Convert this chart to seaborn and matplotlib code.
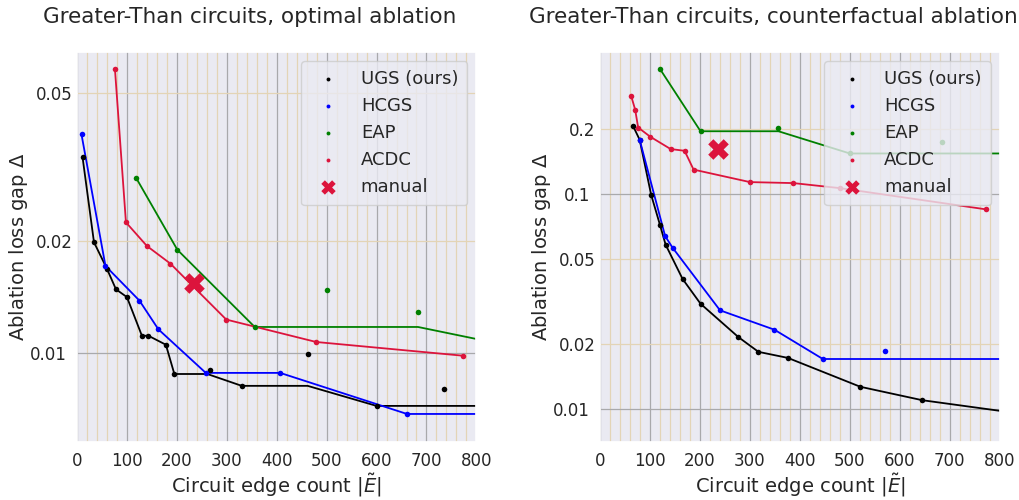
import matplotlib
matplotlib.use("Agg")
import matplotlib.pyplot as plt
import seaborn as sns
from matplotlib.ticker import MultipleLocator, LogLocator, FixedLocator, FixedFormatter

# ---- optimal ablation (left) ----
opt_ugs_x = [11, 34, 60, 78, 100, 130, 143, 178, 195, 266, 330, 462, 600, 736]
opt_ugs_y = [0.0336, 0.0198, 0.0168, 0.0148, 0.0141, 0.0111, 0.0111, 0.0105, 0.00876, 0.00897, 0.00814, 0.0099, 0.00719, 0.0080]
opt_ugs_line_x = [11, 34, 60, 78, 100, 130, 143, 178, 195, 261, 330, 462, 600, 800]
opt_ugs_line_y = [0.0336, 0.0198, 0.0168, 0.0148, 0.0141, 0.0111, 0.0111, 0.0105, 0.00876, 0.00876, 0.00814, 0.00814, 0.00719, 0.00719]

opt_hcgs_x = [9, 57, 125, 163, 258, 407, 661]
opt_hcgs_y = [0.0386, 0.0171, 0.0138, 0.01155, 0.00882, 0.00882, 0.00684]
opt_hcgs_line_x = [9, 57, 125, 163, 258, 407, 661, 800]
opt_hcgs_line_y = [0.0386, 0.0171, 0.0138, 0.01155, 0.00882, 0.00882, 0.00684, 0.00684]

opt_eap_x = [119, 201, 356, 500, 683]
opt_eap_y = [0.0294, 0.0189, 0.01172, 0.01474, 0.01286]
opt_eap_line_x = [119, 201, 356, 683, 800]
opt_eap_line_y = [0.0294, 0.0189, 0.01172, 0.01172, 0.01088]

opt_acdc_x = [76, 98, 140, 187, 299, 479, 773]
opt_acdc_y = [0.0578, 0.0224, 0.01935, 0.01735, 0.01227, 0.01068, 0.00981]

opt_manual = (234, 0.01543)

# ---- counterfactual ablation (right) ----
cf_ugs_x = [66, 79, 102, 120, 131, 165, 201, 277, 317, 376, 521, 645]
cf_ugs_y = [0.207, 0.179, 0.0993, 0.0715, 0.0582, 0.0403, 0.0309, 0.0216, 0.01846, 0.0173, 0.0127, 0.0110]
cf_ugs_line_x = cf_ugs_x + [800]
cf_ugs_line_y = cf_ugs_y + [0.00982]

cf_hcgs_x = [79, 130, 145, 240, 349, 446, 571]
cf_hcgs_y = [0.179, 0.0638, 0.0563, 0.0288, 0.0234, 0.0171, 0.0186]
cf_hcgs_line_x = [79, 130, 145, 240, 349, 446, 800]
cf_hcgs_line_y = [0.179, 0.0638, 0.0563, 0.0288, 0.0234, 0.0171, 0.0171]

cf_eap_x = [120, 201, 357, 500, 684]
cf_eap_y = [0.381, 0.196, 0.203, 0.1545, 0.174]
cf_eap_line_x = [120, 201, 357, 500, 800]
cf_eap_line_y = [0.381, 0.196, 0.196, 0.1545, 0.1545]

cf_acdc_x = [62, 70, 76, 100, 141, 169, 187, 300, 387, 480, 773]
cf_acdc_y = [0.286, 0.247, 0.204, 0.185, 0.162, 0.159, 0.130, 0.1137, 0.1125, 0.1066, 0.0849]

cf_manual = (236, 0.162)

sns.set_theme(style="darkgrid")


def draw_panel(ax, series, manual, title, ylim, major_y, minor_labels, title_x):
    for label, color, px, py, lx, ly in series:
        sns.lineplot(x=lx, y=ly, color=color, lw=1.3, sort=False, estimator=None, ax=ax, legend=False)
        sns.scatterplot(x=px, y=py, color=color, s=16, linewidth=0, label=label, ax=ax, zorder=3)
    sns.scatterplot(x=[manual[0]], y=[manual[1]], color="crimson", marker="X", s=220,
                    linewidth=0, label="manual", ax=ax, zorder=4)

    ax.set_yscale("log")
    ax.set_xlim(0, 800)
    ax.set_ylim(*ylim)
    ax.xaxis.set_major_locator(MultipleLocator(100))
    ax.xaxis.set_minor_locator(MultipleLocator(20))
    ax.yaxis.set_major_locator(FixedLocator(major_y))
    ax.yaxis.set_major_formatter(FixedFormatter([f"{v:g}" for v in major_y]))
    ax.yaxis.set_minor_locator(LogLocator(base=10, subs=range(2, 10), numticks=20))
    ax.yaxis.set_minor_formatter(FixedFormatter([]))
    ax.set_yticks(minor_labels, [f"{v:g}" for v in minor_labels], minor=True)

    ax.grid(which="major", color="#a9a9ab", lw=0.9)
    ax.grid(which="minor", color="#e3d4b6", lw=0.9)
    ax.tick_params(which="major", length=4, color="#808080", labelsize=12)
    ax.tick_params(which="minor", length=0, labelsize=12)

    ax.set_xlabel(r"Circuit edge count $|\tilde{E}|$", fontsize=14, labelpad=1)
    ax.set_ylabel(r"Ablation loss gap $\Delta$", fontsize=14, labelpad=0)
    ax.set_title(title, fontsize=15.5, x=title_x, pad=21)
    ax.legend(loc="upper right", fontsize=13, markerscale=0.7, borderpad=0.5)


fig, axes = plt.subplots(1, 2, figsize=(10.2, 5.0), dpi=100)
fig.subplots_adjust(left=0.0755, right=0.98, bottom=0.116, top=0.896, wspace=0.31)

draw_panel(
    axes[0],
    [("UGS (ours)", "black", opt_ugs_x, opt_ugs_y, opt_ugs_line_x, opt_ugs_line_y),
     ("HCGS", "blue", opt_hcgs_x, opt_hcgs_y, opt_hcgs_line_x, opt_hcgs_line_y),
     ("EAP", "green", opt_eap_x, opt_eap_y, opt_eap_line_x, opt_eap_line_y),
     ("ACDC", "crimson", opt_acdc_x, opt_acdc_y, opt_acdc_x, opt_acdc_y)],
    opt_manual, "Greater-Than circuits, optimal ablation",
    (0.00575, 0.0643), [0.01], [0.02, 0.05], 0.433)

draw_panel(
    axes[1],
    [("UGS (ours)", "black", cf_ugs_x, cf_ugs_y, cf_ugs_line_x, cf_ugs_line_y),
     ("HCGS", "blue", cf_hcgs_x, cf_hcgs_y, cf_hcgs_line_x, cf_hcgs_line_y),
     ("EAP", "green", cf_eap_x, cf_eap_y, cf_eap_line_x, cf_eap_line_y),
     ("ACDC", "crimson", cf_acdc_x, cf_acdc_y, cf_acdc_x, cf_acdc_y)],
    cf_manual, "Greater-Than circuits, counterfactual ablation",
    (0.00703, 0.458), [0.01, 0.1], [0.02, 0.05, 0.2], 0.434)

fig.savefig("out.png", dpi=100)
